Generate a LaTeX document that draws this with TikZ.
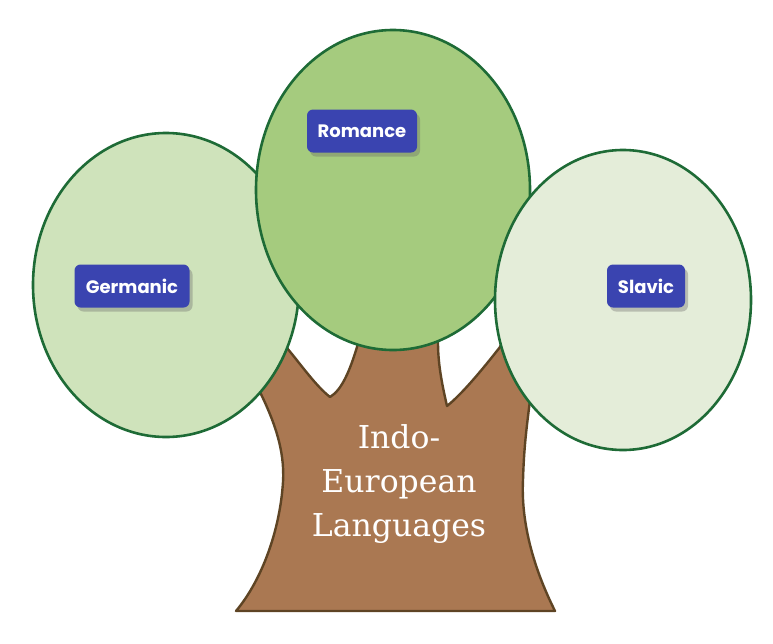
\documentclass[tikz,border=0pt]{standalone}
\usepackage{fontspec}
\usetikzlibrary{shadows}
\newfontfamily\popfont{Poppins}
\newfontfamily\serfont{DejaVu Serif}
\definecolor{leafline}{HTML}{1E6B36}
\definecolor{germfill}{HTML}{CFE3BB}
\definecolor{romfill}{HTML}{A5CB7E}
\definecolor{slavfill}{HTML}{E4EDD9}
\definecolor{trunkfill}{HTML}{AA7852}
\definecolor{trunkline}{HTML}{5E4424}
\definecolor{tagblue}{HTML}{3A44B0}
\tikzset{
  leaf/.style={draw=leafline, line width=2.6pt},
  tag/.style={fill=tagblue, rounded corners=6pt, text=white,
    font=\popfont\bfseries\fontsize{18}{21}\selectfont,
    minimum height=43pt, inner xsep=6pt,
    drop shadow={shadow xshift=3pt, shadow yshift=-4pt, opacity=0.35, fill=black!60}},
  trunktext/.style={text=white, align=center,
    font=\serfont\fontsize{31.5}{44}\selectfont}
}
\begin{document}
\begin{tikzpicture}[x=1pt,y=-1pt]
\useasboundingbox (0,0) rectangle (773,643);
% trunk
\draw[fill=trunkfill, draw=trunkline, line width=2.4pt, line join=round]
  (236,611) -- (555,611)
  .. controls (532,565) and (521,520) .. (523,480)
  .. controls (524,445) and (527,425) .. (530,400)
  -- (540,330) -- (505,335) -- (500,347)
  .. controls (482,370) and (462,394) .. (447,406)
  .. controls (441,380) and (438,362) .. (438,342)
  -- (432,300) -- (366,300) -- (357,347)
  .. controls (350,370) and (342,390) .. (330,397)
  .. controls (316,386) and (302,366) .. (287,348)
  -- (250,330) -- (258,388)
  .. controls (274,420) and (285,450) .. (283,482)
  .. controls (280,530) and (262,580) .. (236,611) -- cycle;
\node[trunktext] (trunk) at (399,484) {Indo-\\European\\Languages};
% leaves
\draw[leaf, fill=germfill] (166,285) ellipse [x radius=133, y radius=152];
\draw[leaf, fill=romfill] (393,190) ellipse [x radius=137, y radius=160];
\draw[leaf, fill=slavfill] (623,300) ellipse [x radius=128, y radius=150];
% tags
\node[tag, minimum width=115pt] (germanic) at (132,286) {Germanic};
\node[tag, minimum width=110pt] (romance) at (362,131) {Romance};
\node[tag, minimum width=78pt] (slavic) at (646,286) {Slavic};
\end{tikzpicture}
\end{document}
